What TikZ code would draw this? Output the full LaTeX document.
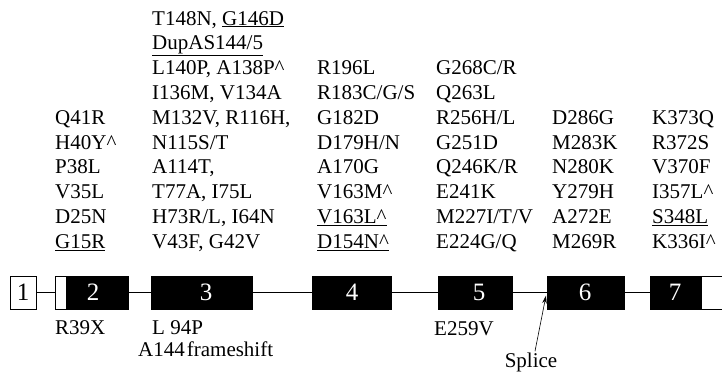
\documentclass[tikz,border=0pt]{standalone}
\usepackage{fontspec}
\setmainfont{Liberation Serif}
\usetikzlibrary{arrows.meta}
\begin{document}
\begin{tikzpicture}[x=1pt,y=-1pt,
  lbl/.style={anchor=base west, inner sep=0pt, font=\fontsize{21}{25}\selectfont},
  exon/.style={draw=black, fill=black, line width=1pt, minimum height=33pt, inner sep=0pt},
  utr/.style={draw=black, fill=white, line width=1pt, minimum height=33pt, inner sep=0pt},
  num/.style={text=white, font=\fontsize{25}{25}\selectfont, inner sep=0pt},
  intron/.style={line width=1pt}]
\useasboundingbox (0,0) rectangle (722,372);
% exons
\node[utr, minimum width=26pt] (e1) at (23,292.5) {};
\node[utr, minimum width=11pt] (e2u) at (60.5,292.5) {};
\node[exon, minimum width=62pt] (e2) at (97,292.5) {};
\node[exon, minimum width=101pt] (e3) at (201.5,292.5) {};
\node[exon, minimum width=79pt] (e4) at (351.5,292.5) {};
\node[exon, minimum width=74pt] (e5) at (475,292.5) {};
\node[exon, minimum width=77pt] (e6) at (585.5,292.5) {};
\node[exon, minimum width=51pt] (e7) at (675.5,292.5) {};
\node[utr, minimum width=34pt] (e7u) at (718,292.5) {};
% numbers
\node[num, text=black] (n1) at (23,292.5) {1};
\node[num] (n2) at (93,292.5) {2};
\node[num] (n3) at (206,292.5) {3};
\node[num] (n4) at (352,292.5) {4};
\node[num] (n5) at (479,292.5) {5};
\node[num] (n6) at (585,292.5) {6};
\node[num] (n7) at (675,292.5) {7};
% introns
\draw[intron] (e1.east) -- (e2u.west);
\draw[intron] (e2.east) -- (e3.west);
\draw[intron] (e3.east) -- (e4.west);
\draw[intron] (e4.east) -- (e5.west);
\draw[intron] (e5.east) -- (e6.west);
\draw[intron] (e6.east) -- (e7.west);
% mutation columns
\foreach \t [count=\i from 4] in {Q41R,H40Y\textasciicircum,P38L,V35L,D25N,\underline{G15R}}
  \node[lbl] (a\i) at (55,{25+24.8*\i}) {\t};
\foreach \t [count=\i from 0] in {{T148N, \underline{G146D}},\underline{DupAS144/5},{L140P, A138P\textasciicircum},{I136M, V134A},{M132V, R116H,},N115S/T,{A114T,},{T77A, I75L},{H73R/L, I64N},{V43F, G42V}}
  \node[lbl] (b\i) at (152,{25+24.8*\i}) {\t};
\foreach \t [count=\i from 2] in {R196L,R183C/G/S,G182D,D179H/N,A170G,V163M\textasciicircum,\underline{V163L\textasciicircum},\underline{D154N\textasciicircum}}
  \node[lbl] (c\i) at (317,{25+24.8*\i}) {\t};
\foreach \t [count=\i from 2] in {G268C/R,Q263L,R256H/L,G251D,Q246K/R,E241K,M227I/T/V,E224G/Q}
  \node[lbl] (d\i) at (436,{25+24.8*\i}) {\t};
\foreach \t [count=\i from 4] in {D286G,M283K,N280K,Y279H,A272E,M269R}
  \node[lbl] (f\i) at (552,{25+24.8*\i}) {\t};
\foreach \t [count=\i from 4] in {K373Q,R372S,V370F,I357L\textasciicircum,\underline{S348L},K336I\textasciicircum}
  \node[lbl] (g\i) at (652,{25+24.8*\i}) {\t};
% bottom labels
\node[lbl] (r39) at (55,334) {R39X};
\node[lbl] (l94) at (152,334) {L 94P};
\node[lbl] (a144) at (138,356) {A144\kern2pt frameshift};
\node[lbl] (e259) at (434,335) {E259V};
\node[lbl, anchor=base] (splice) at (531,367) {Splice};
\coordinate (sp) at (546,295.5);
\draw[line width=0.6pt, -{Stealth[length=8pt,width=4.5pt]}] ([xshift=4pt,yshift=1pt]splice.north) -- (sp);
\end{tikzpicture}
\end{document}
